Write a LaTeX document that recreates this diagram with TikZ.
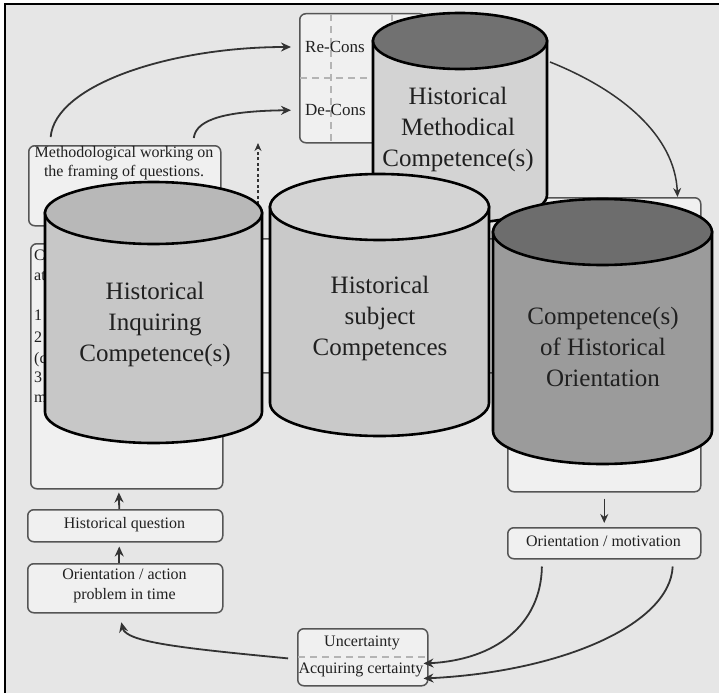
\documentclass[tikz,border=0pt]{standalone}
\usepackage{fontspec}
\setmainfont{Liberation Serif}
\usetikzlibrary{arrows.meta}
\definecolor{bg}{HTML}{E6E6E6}
\definecolor{boxfill}{HTML}{F0F0F0}
\definecolor{boxline}{HTML}{555555}
\definecolor{sepgray}{HTML}{B4B4B4}
\definecolor{arrline}{HTML}{333333}
\definecolor{txt}{HTML}{202020}
\definecolor{inqbody}{HTML}{C7C7C7}
\definecolor{inqtop}{HTML}{B8B8B8}
\definecolor{subbody}{HTML}{C9C9C9}
\definecolor{subtop}{HTML}{D4D4D4}
\definecolor{metbody}{HTML}{D3D3D3}
\definecolor{mettop}{HTML}{717171}
\definecolor{oribody}{HTML}{9B9B9B}
\definecolor{oritop}{HTML}{6D6D6D}
\newcommand\drawcyl[7]{%
  \filldraw[cylline, fill=#6] ({#1-#4},#2) -- ({#1-#4},#3)
     arc[start angle=180, end angle=0, x radius=#4, y radius=#5]
     -- ({#1+#4},#2) -- cycle;
  \filldraw[cylline, fill=#7] (#1,#2) ellipse [x radius=#4, y radius=#5];
}
\begin{document}
\begin{tikzpicture}[x=1pt,y=-1pt,
  box/.style={draw=boxline, fill=boxfill, rounded corners=6pt, line width=1.5pt, inner sep=0pt, anchor=north west},
  lbl/.style={font=\fontsize{16}{20}\selectfont, text=txt, inner sep=0pt, align=center},
  big/.style={font=\fontsize{25}{31}\selectfont, text=txt, inner sep=0pt, align=center},
  arr/.style={draw=arrline, line width=1.8pt, -{Stealth[length=10pt,width=9pt]}},
  thinarr/.style={draw=arrline, line width=1.5pt, -{Stealth[length=9pt,width=8pt]}},
  cylline/.style={draw=black, line width=2.6pt},
  sep/.style={draw=sepgray, dash pattern=on 7pt off 5pt, line width=1.2pt}]
\useasboundingbox (0,0) rectangle (719,693);
% background and frame
\fill[white] (0,0) rectangle (719,693);
\fill[bg] (5,4.5) rectangle (719,693);
\draw[black, line width=2pt] (5,693) -- (5,4.5) -- (719,4.5);

% Re-/De-Construction box
\node[box, minimum width=126pt, minimum height=129pt] (recbox) at (299,13) {};
\draw[sep] (331,14) -- (331,141);
\draw[sep] (392,14) -- (392,40);
\draw[sep] (300,78) -- (424,78);
\node[lbl, font=\fontsize{17}{20}\selectfont, anchor=west] (retext) at (305,47) {Re-Cons};
\node[lbl, font=\fontsize{17}{20}\selectfont, anchor=west] (detext) at (305,110) {De-Cons};

% Methodological box
\node[box, minimum width=192pt, minimum height=80pt] (metbox) at (28,145) {};
\node[lbl, font=\fontsize{16}{19.5}\selectfont] (mettext) at (124,163) {Methodological working on\\the framing of questions.};

% large box behind the inquiring cylinder
\node[box, minimum width=192pt, minimum height=245pt] (inqbox) at (30,243) {};
\node[lbl, anchor=base west] (l1) at (34,260.5) {C};
\node[lbl, anchor=base west] (l2) at (34,280.5) {at};
\node[lbl, anchor=base west] (l3) at (34,320.5) {1};
\node[lbl, anchor=base west] (l4) at (34,342.5) {2};
\node[lbl, anchor=base west] (l5) at (34,363.5) {(c};
\node[lbl, anchor=base west] (l6) at (34,382.5) {3};
\node[lbl, anchor=base west] (l7) at (34,402.5) {m};

% box behind the subject cylinder
\node[box, minimum width=265pt, minimum height=134pt] (subbox) at (240,238) {};

% box behind the orientation cylinder
\node[box, minimum width=193pt, minimum height=294pt] (orbox) at (507,197) {};

% arrows to Re-/De-Construction
\draw[arr, shorten <=8pt, shorten >=14pt] ([xshift=22pt]metbox.north west) .. controls (55,85) and (170,47) .. (retext.west);
\draw[arr, shorten <=7pt, shorten >=14pt] ([xshift=165pt]metbox.north west) .. controls (196,118) and (230,111) .. (detext.west);
\coordinate (dashfoot) at (258,215);
\coordinate (dashtip) at (258,143);
\draw[draw=arrline, line width=1.3pt, dash pattern=on 3pt off 2.5pt, -{Stealth[length=8pt,width=7pt]}] (dashfoot) -- (dashtip);

% Historical Methodical Competence(s)
\drawcyl{460}{41}{195}{87}{28}{metbody}{mettop}
\node[big] (methtext) at (458,129) {Historical\\Methodical\\Competence(s)};
\coordinate (methR) at (550,62);
\draw[thinarr] (methR) .. controls (620,90) and (675,135) .. ([xshift=-24pt]orbox.north east);

% Historical Inquiring Competence(s)
\drawcyl{153.5}{213}{412}{108.5}{31}{inqbody}{inqtop}
\node[big] (inqtext) at (155,324) {Historical\\Inquiring\\Competence(s)};

% Historical subject Competences
\drawcyl{379.5}{207}{403}{109.5}{33}{subbody}{subtop}
\node[big] (subtext) at (380,318) {Historical\\subject\\Competences};

% Competence(s) of Historical Orientation
\drawcyl{602.5}{232}{431}{109.5}{33}{oribody}{oritop}
\node[big] (oritext) at (603,347) {Competence(s)\\of Historical\\Orientation};

% lower left chain
\node[box, minimum width=195pt, minimum height=32pt] (hq) at (27,509) {};
\node[lbl] (hqtext) at (124.5,525) {Historical question};
\node[box, minimum width=195pt, minimum height=49pt] (oact) at (27,563) {};
\node[lbl] (oacttext) at (124.5,586) {Orientation / action\\problem in time};
\draw[arr, shorten >=3pt] ([xshift=-6pt]hq.north) -- ([xshift=-8pt]inqbox.south);
\draw[arr, shorten >=4pt] ([xshift=-6pt]oact.north) -- ([xshift=-6pt]hq.south);

% lower right
\node[box, minimum width=193pt, minimum height=31pt] (omot) at (507,527) {};
\node[lbl] (omottext) at (603.5,541) {Orientation / motivation};
\draw[thinarr, shorten <=6pt, shorten >=4pt] (orbox.south) -- (omot.north);

% uncertainty box
\node[box, minimum width=130pt, minimum height=57pt] (unc) at (297,628) {};
\draw[sep] (298,657) -- (426,657);
\node[lbl] (unctext) at (362,643) {Uncertainty};
\node[lbl] (acqtext) at (361,670) {Acquiring certainty};

% curves into uncertainty box
\draw[arr, shorten <=7pt, shorten >=-5pt] ([xshift=35pt]omot.south west) .. controls (541,625) and (495,660) .. ([yshift=-6pt]unc.east);
\draw[arr, shorten <=7pt, shorten >=-5pt] ([xshift=166pt]omot.south west) .. controls (670,625) and (560,672) .. ([yshift=-21pt]unc.east);

% curve back to orientation / action
\draw[arr, shorten <=9pt, shorten >=9pt] ([yshift=-2pt]unc.west) .. controls (180,648) and (126,642) .. ([xshift=-6pt]oact.south);
\end{tikzpicture}
\end{document}
